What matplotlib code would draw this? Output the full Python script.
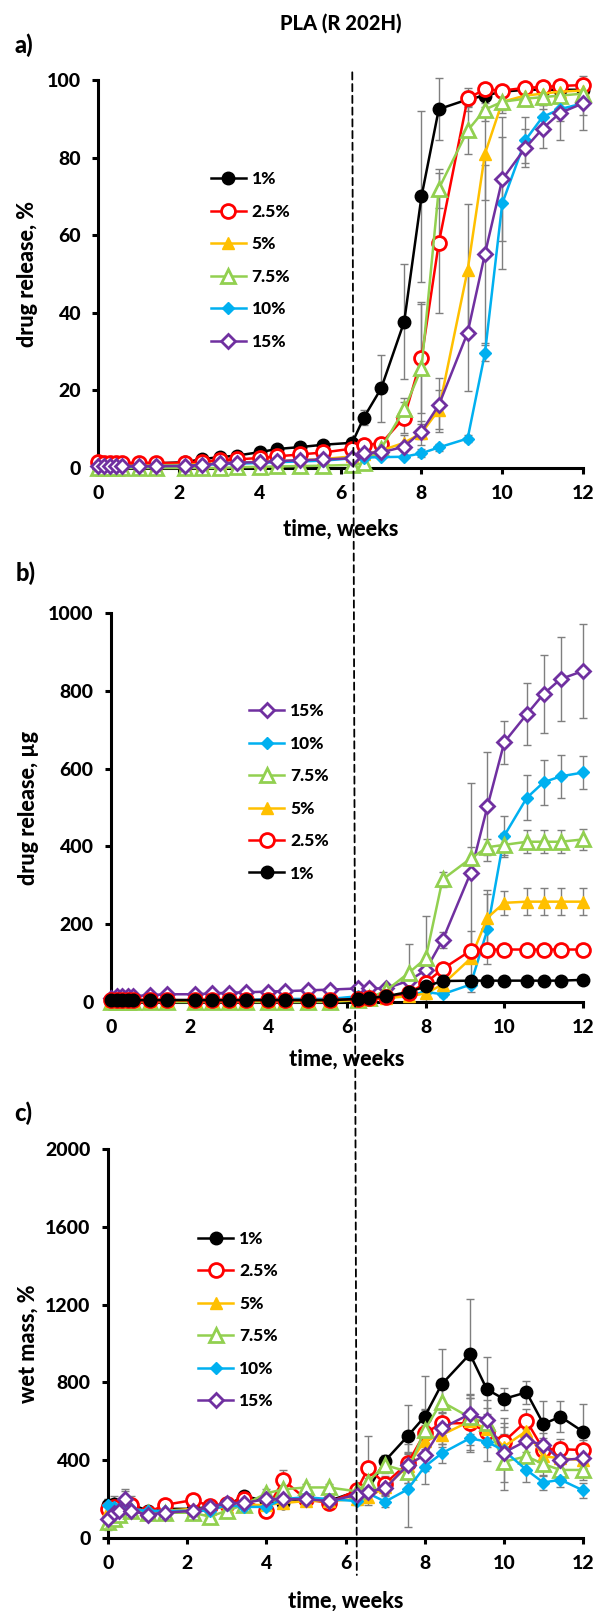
"""Drug release and wet mass of PLA (R 202H) implants, three stacked panels."""

import matplotlib
matplotlib.use("Agg")
import matplotlib.pyplot as plt
import numpy as np
from matplotlib.patches import ConnectionPatch

plt.rcParams["font.family"] = ["Lato", "DejaVu Sans"]
plt.rcParams["font.weight"] = 900
plt.rcParams["axes.labelweight"] = 900

# sampling days, plotted in weeks
days = [0, 1, 2, 3, 4, 7, 10, 15, 18, 21, 24, 28, 31, 35, 39, 44, 46, 49,
        53, 56, 59, 64, 67, 70, 74, 77, 80, 84]
labels = ["1%", "2.5%", "5%", "7.5%", "10%", "15%"]
marker_day = 44  # dashed reference line

# a) cumulative release, %
rel_1 = [1.0, 1.0, 1.0, 1.0, 1.0, 1.0, 1.2, 1.5, 2.3, 2.8, 3.2, 4.1, 4.9, 5.4,
         6.0, 6.5, 13, 20.5, 37.7, 70, 92.5, 95, 96, 97, 97.5, 97.5, 97.5, 97.5]
rel_2 = [1.5, 1.3, 1.3, 1.3, 1.3, 1.3, 1.3, 1.3, 1.6, 2.0, 2.2, 2.6, 3.0, 3.5,
         4.0, 5.0, 6.0, 6.3, 13, 28.3, 58, 95.3, 97.6, 97.3, 98, 98.2, 98.5, 98.7]
rel_5 = [0.5, 0.5, 0.5, 0.5, 0.5, 0.6, 0.7, 0.8, 1.0, 1.2, 1.4, 1.6, 1.8, 2.0,
         2.3, 3.0, 3.5, 4.5, 6.5, 9, 15, 51, 81, 94.4, 96, 96.5, 97, 97.3]
rel_7 = [0, 0, 0, 0, 0, 0, 0, 0, 0, 0, 0.2, 0.3, 0.4, 0.5, 0.6, 0.8, 1.2, 5,
         15.1, 25.7, 72, 87, 92.4, 94.4, 95.2, 95.6, 96, 96.5]
rel_10 = [0.3, 0.3, 0.3, 0.3, 0.3, 0.4, 0.5, 0.6, 0.8, 1.0, 1.1, 1.3, 1.5, 1.7,
          1.9, 2.5, 2.7, 2.8, 2.9, 3.8, 5.3, 7.6, 29.6, 68.2, 84.5, 90.5, 92.5, 94]
rel_15 = [0.5, 0.5, 0.5, 0.5, 0.5, 0.5, 0.5, 0.5, 0.8, 1.2, 1.4, 1.5, 1.8, 2.0,
          2.2, 2.5, 3.9, 4.0, 5.5, 9.4, 16.2, 34.9, 55.2, 74.4, 82.5, 87.5, 91.5, 94]

err_rel_1 = [0, 0, 0, 0, 0, 0, 0, 0, 0, 0, 0, 0, 0, 0, 0, 1, 2, 8.6, 14.8, 22,
             8, 3, 2, 1, 1, 1, 1, 1]
err_rel_2 = [0, 0, 0, 0, 0, 0, 0, 0, 0, 0, 0, 0, 0, 0, 0, 0, 1, 1, 4, 14, 18,
             2, 1, 1, 1, 1, 1, 1]
err_rel_5 = [0, 0, 0, 0, 0, 0, 0, 0, 0, 0, 0, 0, 0, 0, 0, 0, 0, 1, 2, 3, 5,
             17, 12, 3, 2, 2, 2, 2]
err_rel_7 = [0, 0, 0, 0, 0, 0, 0, 0, 0, 0, 0, 0, 0, 0, 0, 0, 0, 1, 3, 17, 5,
             6, 3, 2, 2, 2, 2, 2]
err_rel_10 = [0, 0, 0, 0, 0, 0, 0, 0, 0, 0, 0, 0, 0, 0, 0, 0, 0, 0, 0, 1, 1,
              1, 2, 17, 6, 3, 3, 3]
err_rel_15 = [0, 0, 0, 0, 0, 0, 0, 0, 0, 0, 0, 0, 0, 0, 0, 0, 0, 1, 1, 2, 7,
              15, 23, 16, 5, 5, 7, 7]

# b) cumulative release, ug
mass_1 = [5, 5, 5, 5, 5, 5, 5, 5, 5, 5, 5, 5, 5, 5, 5, 8, 10, 15, 26, 40, 54,
          55, 55, 55, 55, 55, 55, 57]
mass_2 = [5, 5, 5, 5, 5, 5, 5, 5, 5, 5, 5, 5, 5, 5, 5, 8, 10, 14, 23, 49, 85,
          132, 135, 135, 135, 135, 135, 135]
mass_5 = [3, 3, 3, 3, 3, 3, 3, 3, 3, 3, 3, 3, 3, 3, 3, 5, 7, 10, 15, 22, 45,
          112, 217, 255, 258, 258, 258, 258]
mass_7 = [0, 0, 0, 0, 0, 0, 0, 0, 0, 0, 0, 0, 0, 0, 0, 5, 10, 30, 75, 112, 315,
          369, 398, 404, 412, 412, 412, 418]
mass_10 = [5, 5, 5, 5, 5, 5, 5, 5, 5, 5, 5, 8, 8, 8, 8, 15, 15, 15, 18, 26, 20,
           45, 187, 428, 525, 565, 580, 590]
mass_15 = [10, 15, 15, 15, 15, 18, 20, 20, 22, 24, 25, 27, 28, 30, 32, 35, 35,
           35, 55, 82, 159, 332, 503, 668, 740, 792, 830, 851]

err_mass_1 = [0, 0, 0, 0, 0, 0, 0, 0, 0, 0, 0, 0, 0, 0, 0, 0, 0, 2, 3, 5, 5,
              4, 4, 4, 4, 4, 4, 4]
err_mass_2 = [0, 0, 0, 0, 0, 0, 0, 0, 0, 0, 0, 0, 0, 0, 0, 0, 0, 2, 4, 8, 10,
              6, 6, 6, 6, 6, 6, 6]
err_mass_5 = [0, 0, 0, 0, 0, 0, 0, 0, 0, 0, 0, 0, 0, 0, 0, 0, 0, 2, 4, 8, 12,
              70, 70, 30, 35, 35, 35, 35]
err_mass_7 = [0, 0, 0, 0, 0, 0, 0, 0, 0, 0, 0, 0, 0, 0, 0, 0, 0, 5, 75, 110,
              20, 30, 20, 30, 30, 30, 30, 28]
err_mass_10 = [0, 0, 0, 0, 0, 0, 0, 0, 0, 0, 0, 0, 0, 0, 0, 0, 0, 2, 4, 8, 8,
               20, 90, 50, 58, 58, 55, 42]
err_mass_15 = [0, 0, 0, 0, 0, 0, 0, 0, 0, 0, 0, 0, 0, 0, 0, 0, 0, 3, 6, 10, 20,
               230, 140, 55, 80, 100, 108, 120]

# c) wet mass, %
wet_1 = [170, 175, 165, 180, 175, 140, 150, 150, 160, 165, 216, 190, 182, 195,
         190, 240, 250, 397, 524, 624, 790, 946, 764, 715, 749, 586, 624, 547]
wet_2 = [150, 160, 140, 160, 170, 130, 170, 195, 165, 175, 200, 140, 298, 200,
         180, 245, 358, 280, 384, 538, 590, 590, 546, 495, 602, 455, 457, 452]
wet_5 = [140, 150, 140, 150, 150, 130, 140, 150, 150, 160, 170, 170, 180, 190,
         190, 200, 210, 260, 370, 500, 530, 600, 560, 470, 550, 420, 410, 400]
wet_7 = [80, 100, 120, 160, 140, 130, 130, 130, 110, 140, 170, 230, 250, 260,
         260, 240, 290, 375, 341, 555, 701, 620, 590, 392, 420, 380, 350, 350]
wet_10 = [170, 160, 150, 170, 150, 140, 140, 140, 140, 170, 160, 160, 200, 210,
          200, 190, 230, 187, 250, 367, 435, 513, 495, 450, 350, 285, 300, 245]
wet_15 = [100, 130, 140, 200, 140, 120, 130, 140, 160, 180, 180, 200, 200, 200,
          190, 221, 238, 255, 375, 427, 564, 637, 607, 439, 500, 480, 400, 410]

err_wet_1 = [30, 40, 30, 70, 40, 20, 20, 20, 20, 20, 20, 30, 20, 20, 20, 20, 60,
             30, 160, 210, 180, 285, 165, 55, 60, 120, 80, 140]
err_wet_2 = [30, 30, 30, 40, 30, 20, 20, 20, 20, 20, 20, 30, 50, 20, 20, 20,
             168, 40, 100, 120, 60, 150, 80, 120, 60, 60, 50, 50]
err_wet_5 = [20, 20, 20, 30, 20, 20, 20, 20, 20, 20, 20, 20, 20, 20, 20, 20, 40,
             40, 60, 80, 60, 120, 80, 100, 60, 50, 50, 50]
err_wet_7 = [40, 30, 30, 40, 30, 20, 20, 20, 20, 20, 20, 20, 20, 20, 20, 20, 40,
             40, 60, 110, 100, 100, 80, 145, 60, 60, 50, 50]
err_wet_10 = [30, 30, 30, 30, 30, 20, 20, 20, 20, 20, 20, 20, 20, 20, 20, 20,
              40, 30, 193, 90, 50, 60, 100, 80, 60, 40, 40, 40]
err_wet_15 = [30, 30, 30, 40, 30, 20, 20, 20, 20, 20, 20, 20, 20, 20, 20, 20,
              40, 30, 60, 80, 80, 100, 100, 150, 60, 60, 50, 50]

colors = ["#000000", "#FF0000", "#FFC000", "#92D050", "#00B0F0", "#7030A0"]
styles = [
    dict(marker="o", ms=9.0, mfc="#000000", mec="#000000", mew=1.0),
    dict(marker="o", ms=10.0, mfc="white", mec="#FF0000", mew=2.0),
    dict(marker="^", ms=8.5, mfc="#FFC000", mec="#FFC000", mew=1.0),
    dict(marker="^", ms=10.5, mfc="white", mec="#92D050", mew=2.0),
    dict(marker="D", ms=6.0, mfc="#00B0F0", mec="#00B0F0", mew=1.0),
    dict(marker="D", ms=7.2, mfc="white", mec="#7030A0", mew=2.0),
]

weeks = np.array(days) / 7.0


def draw_panel(ax, series, errors, order, ylim, yticks, ylabel):
    for i in order:
        ax.errorbar(weeks, series[i], yerr=errors[i], fmt="none",
                    ecolor="#7F7F7F", elinewidth=1.0, capsize=2.8,
                    capthick=1.0, zorder=2, clip_on=False)
        ax.plot(weeks, series[i], color=colors[i], lw=1.8, label=labels[i],
                zorder=3, clip_on=False, **styles[i])
    ax.set_xlim(0, 12)
    ax.set_ylim(*ylim)
    ax.set_xticks(np.arange(0, 13, 2))
    ax.set_yticks(yticks)
    for side in ("top", "right"):
        ax.spines[side].set_visible(False)
    for side in ("left", "bottom"):
        ax.spines[side].set_linewidth(2.2)
    ax.tick_params(axis="y", direction="out", length=4.5, width=2.2,
                   pad=8, labelsize=14)
    ax.tick_params(axis="x", direction="out", length=4, width=2.2,
                   pad=8, labelsize=14)
    ax.set_xlabel("time, weeks", fontsize=15.5, fontweight=900)
    ax.set_ylabel(ylabel, fontsize=15.5, fontweight=900)


fig = plt.figure(figsize=(5.99, 16.11), dpi=100)
ax_a = fig.add_axes([0.1644, 0.7095, 0.8089, 0.2408])
ax_b = fig.add_axes([0.1853, 0.3780, 0.7880, 0.2415])
ax_c = fig.add_axes([0.1803, 0.0453, 0.7930, 0.2415])

draw_panel(ax_a, [rel_1, rel_2, rel_5, rel_7, rel_10, rel_15],
           [err_rel_1, err_rel_2, err_rel_5, err_rel_7, err_rel_10, err_rel_15],
           range(6), (0, 100), np.arange(0, 101, 20), "drug release, %")
draw_panel(ax_b, [mass_1, mass_2, mass_5, mass_7, mass_10, mass_15],
           [err_mass_1, err_mass_2, err_mass_5, err_mass_7, err_mass_10,
            err_mass_15],
           range(5, -1, -1), (0, 1000), np.arange(0, 1001, 200),
           "drug release, µg")
draw_panel(ax_c, [wet_1, wet_2, wet_5, wet_7, wet_10, wet_15],
           [err_wet_1, err_wet_2, err_wet_5, err_wet_7, err_wet_10, err_wet_15],
           range(6), (0, 2000), np.arange(0, 2001, 400), "wet mass, %")

ax_a.xaxis.set_label_coords(0.5, -0.130)
ax_b.xaxis.set_label_coords(0.5, -0.121)
ax_c.xaxis.set_label_coords(0.5, -0.134)
ax_a.yaxis.set_label_coords(-0.125, 0.5)
ax_b.yaxis.set_label_coords(-0.152, 0.5)
ax_c.yaxis.set_label_coords(-0.145, 0.5)

legend_kw = dict(frameon=False, fontsize=12.5, borderpad=0, borderaxespad=0,
                 handlelength=2.0, handletextpad=0.35, labelspacing=0.95,
                 loc="center left")
ax_a.legend(bbox_to_anchor=(0.232, 0.535), **legend_kw)
ax_b.legend(bbox_to_anchor=(0.293, 0.539), **legend_kw)
ax_c.legend(bbox_to_anchor=(0.190, 0.560), **legend_kw)

fig.text(0.569, 0.9857, "PLA (R 202H)", ha="center", va="center",
         fontsize=14.5)
fig.text(0.040, 0.9720, "a)", ha="center", va="center", fontsize=17)
fig.text(0.042, 0.6443, "b)", ha="center", va="center", fontsize=17)
fig.text(0.038, 0.3090, "c)", ha="center", va="center", fontsize=17)

# dashed line spanning all three panels
marker_week = marker_day / 7.0
line = ConnectionPatch(xyA=(marker_week, 102), coordsA=ax_a.transData,
                       xyB=(marker_week, -190), coordsB=ax_c.transData,
                       color="black", lw=1.3, linestyle=(0, (4, 2.5)))
fig.add_artist(line)

fig.savefig("out.png", dpi=100)
